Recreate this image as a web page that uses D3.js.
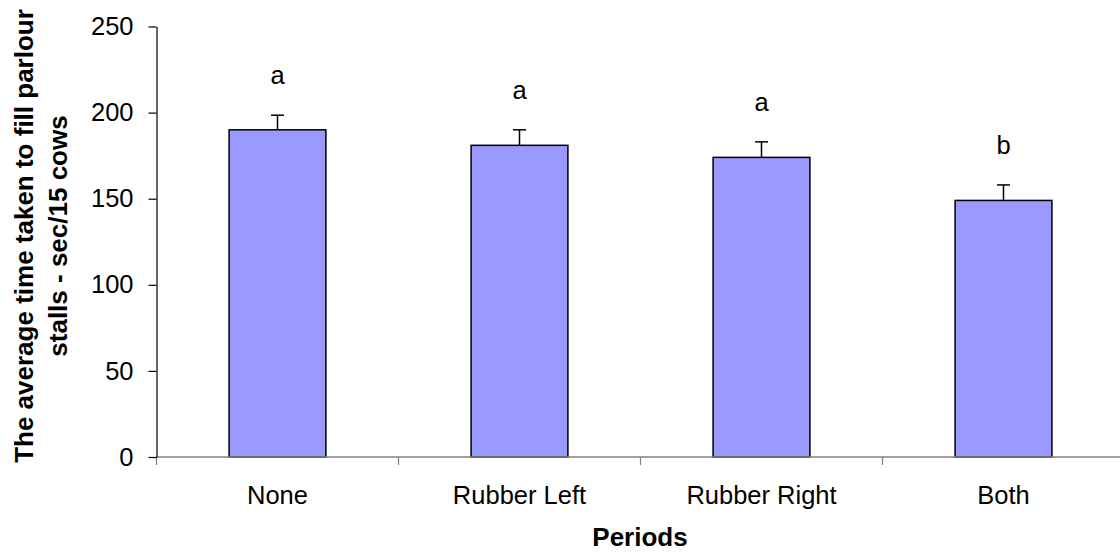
<!DOCTYPE html>
<html>
<head>
<meta charset="utf-8">
<script src="https://cdn.jsdelivr.net/npm/d3@7"></script>
<style>
  html, body { margin: 0; padding: 0; background: #fff; }
  svg { display: block; font-family: Arial, "Liberation Sans", sans-serif; }
  .tick-label { font-size: 25.5px; fill: #000; }
  .axis-title { font-size: 26px; font-weight: bold; fill: #000; }
</style>
</head>
<body>
<svg width="1120" height="552"></svg>
<script>
// Data
const periods = ["None", "Rubber Left", "Rubber Right", "Both"];
const meanTimes = [190, 181, 174, 149];
const errors = [8.5, 9, 9, 9];
const groupLetters = ["a", "a", "a", "b"];
const yTicks = [0, 50, 100, 150, 200, 250];

const data = periods.map((p, i) => ({
  period: p,
  value: meanTimes[i],
  err: errors[i],
  letter: groupLetters[i]
}));

const svg = d3.select("svg");

const margin = { top: 26.5, left: 156.5 };
const bandW = 242;
const plotH = 430.5;

const x = d3.scaleBand()
  .domain(periods)
  .range([margin.left, margin.left + bandW * periods.length])
  .paddingInner(0.6)
  .paddingOuter(0.3);

const y = d3.scaleLinear()
  .domain([0, 250])
  .range([margin.top + plotH, margin.top]);

const y0 = y(0);

// Bars
svg.append("g")
  .selectAll("rect")
  .data(data)
  .join("rect")
  .attr("x", d => x(d.period))
  .attr("y", d => y(d.value))
  .attr("width", x.bandwidth())
  .attr("height", d => y0 - y(d.value))
  .attr("fill", "#9999ff")
  .attr("stroke", "#000")
  .attr("stroke-width", 1.5);

// Error bars (upper only)
const eb = svg.append("g").attr("stroke", "#000").attr("stroke-width", 1.5);
data.forEach(d => {
  const cx = x(d.period) + x.bandwidth() / 2;
  eb.append("line")
    .attr("x1", cx).attr("x2", cx)
    .attr("y1", y(d.value)).attr("y2", y(d.value + d.err));
  eb.append("line")
    .attr("x1", cx - 6.5).attr("x2", cx + 6.5)
    .attr("y1", y(d.value + d.err)).attr("y2", y(d.value + d.err));
});

// Significance letters
svg.append("g")
  .selectAll("text")
  .data(data)
  .join("text")
  .attr("class", "tick-label")
  .attr("x", d => x(d.period) + x.bandwidth() / 2)
  .attr("y", d => y(d.value + d.err) - 31)
  .attr("text-anchor", "middle")
  .text(d => d.letter);

// X axis (grey line, ticks at category boundaries)
const xAxisG = svg.append("g");
xAxisG.append("line")
  .attr("x1", margin.left).attr("x2", margin.left + bandW * periods.length)
  .attr("y1", y0).attr("y2", y0)
  .attr("stroke", "#808080").attr("stroke-width", 1.5);
d3.range(periods.length + 1).forEach(i => {
  const tx = margin.left + i * bandW;
  xAxisG.append("line")
    .attr("x1", tx).attr("x2", tx)
    .attr("y1", y0).attr("y2", y0 + 8)
    .attr("stroke", "#808080").attr("stroke-width", 1.2);
});
xAxisG.selectAll("text")
  .data(periods)
  .join("text")
  .attr("class", "tick-label")
  .attr("x", d => x(d) + x.bandwidth() / 2)
  .attr("y", 504)
  .attr("text-anchor", "middle")
  .text(d => d);

// Y axis
const yAxis = svg.append("g")
  .attr("transform", `translate(${margin.left},0)`)
  .call(d3.axisLeft(y).tickValues(yTicks).tickSize(8).tickPadding(15).tickSizeOuter(0));
yAxis.select(".domain").attr("stroke", "#000").attr("stroke-width", 1.2);
yAxis.selectAll(".tick line").attr("stroke", "#000").attr("stroke-width", 1.2);
yAxis.selectAll(".tick text")
  .attr("class", "tick-label")
  .attr("font-family", null)
  .attr("font-size", null)
  .attr("fill", "#000");

// Axis titles
svg.append("text")
  .attr("class", "axis-title")
  .attr("x", 640)
  .attr("y", 546)
  .attr("text-anchor", "middle")
  .text("Periods");

const yTitle = svg.append("text")
  .attr("class", "axis-title")
  .attr("transform", "translate(0,236) rotate(-90)")
  .attr("text-anchor", "middle");
yTitle.append("tspan").attr("x", 0).attr("y", 33).text("The average time taken to fill parlour");
yTitle.append("tspan").attr("x", 0).attr("y", 67).text("stalls - sec/15 cows");
</script>
</body>
</html>
